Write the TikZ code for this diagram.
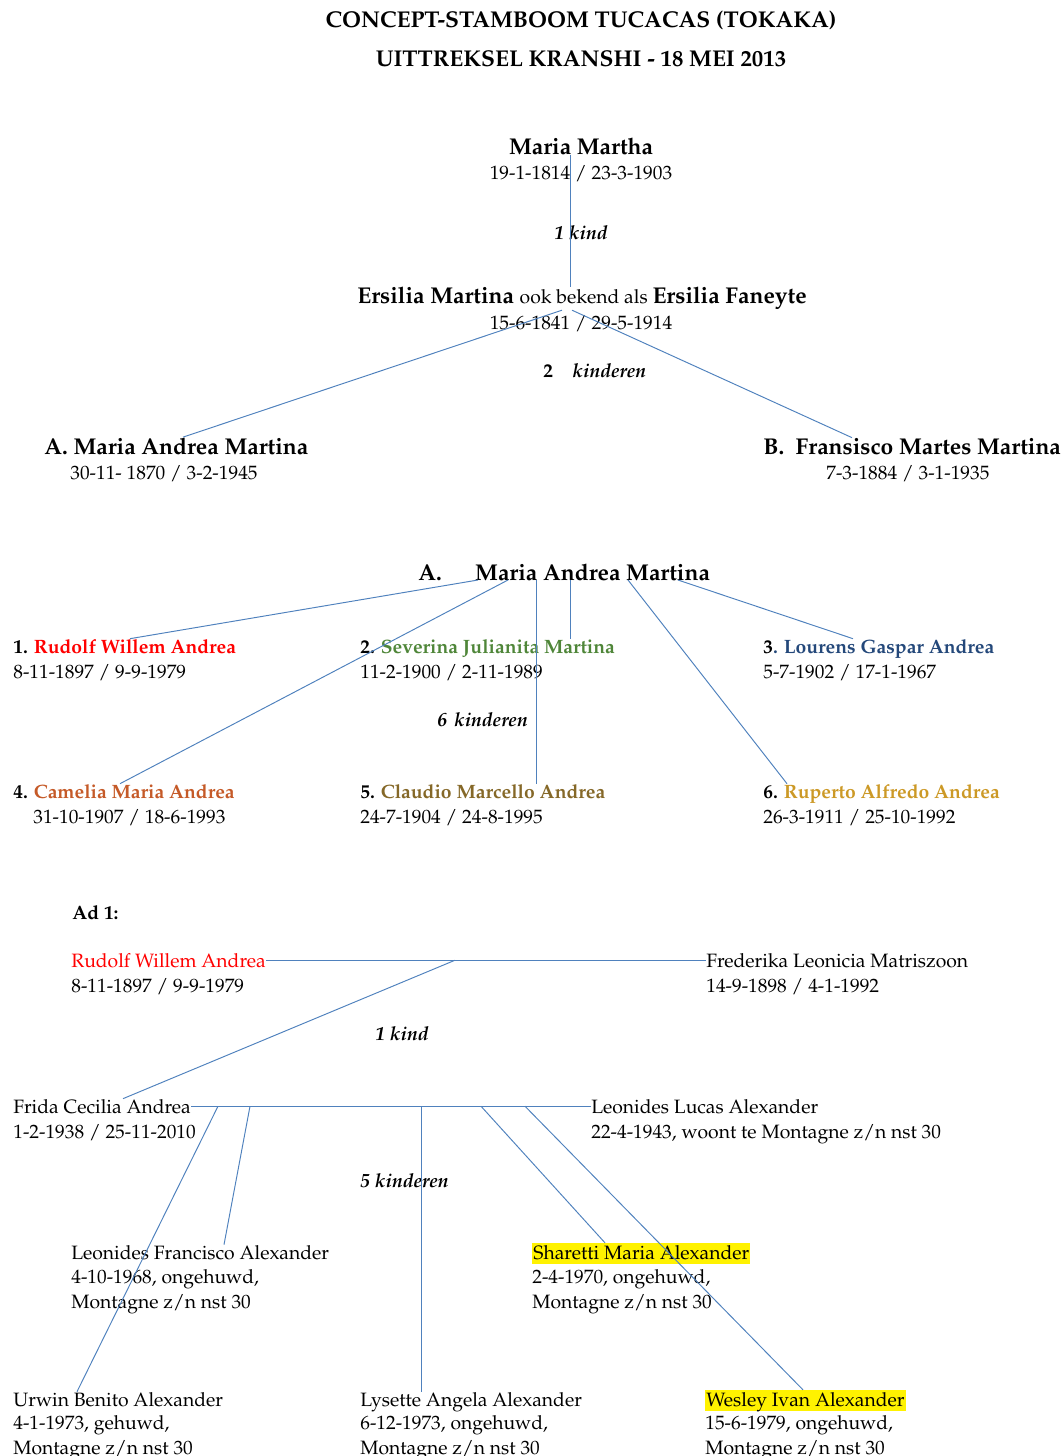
\documentclass[tikz,border=0pt]{standalone}
\usepackage[T1]{fontenc}
\usepackage{mathpazo}
\usepackage{xcolor}
\usetikzlibrary{positioning}
\definecolor{tieblue}{RGB}{79,129,189}
\definecolor{kidred}{RGB}{255,0,0}
\definecolor{kidgreen}{RGB}{79,134,57}
\definecolor{kidblue}{RGB}{36,72,122}
\definecolor{kidorange}{RGB}{197,90,40}
\definecolor{kidbrown}{RGB}{133,104,40}
\definecolor{kidgold}{RGB}{204,153,38}

\begin{document}
\begin{tikzpicture}[
    x=0.02cm, y=-0.02cm,
    heading/.style={font=\fontsize{13}{16}\selectfont\bfseries, inner sep=0, anchor=base},
    head/.style={font=\fontsize{13}{16}\selectfont\bfseries, inner sep=0},
    person/.style={font=\fontsize{11}{13.9}\selectfont, inner sep=0, anchor=base west},
    child/.style={font=\fontsize{11}{13.9}\selectfont\bfseries, inner sep=0, anchor=base west},
    dates/.style={font=\fontsize{11}{13.9}\selectfont, inner sep=0, align=left},
    kids/.style={font=\fontsize{11}{13.9}\selectfont\bfseries\itshape, inner sep=0, anchor=base west},
    hilite/.style={fill=yellow, inner xsep=0.6pt, inner ysep=0pt, text height=9pt, text depth=3pt},
    tie/.style={draw=tieblue, line width=0.55pt}
]
    \useasboundingbox (0,-2) rectangle (1062,1454);

    % Titles
    \node[heading] (t1) at (581,26) {CONCEPT-STAMBOOM TUCACAS (TOKAKA)};
    \node[heading] (t2) at (581,65) {UITTREKSEL KRANSHI - 18 MEI 2013};

    % Stammoeder en dochter
    \node[head, anchor=base] (mm) at (581,153) {Maria Martha};
    \node[dates, anchor=base] (mmd) at (581,178) {19-1-1814 / 23-3-1903};
    \node[kids, anchor=base] (k1) at (581,238) {1 kind};
    \node[head, anchor=base] (ers) at (582,302) {Ersilia Martina \mdseries\fontsize{11}{13.9}\selectfont ook bekend als \fontsize{13}{16}\selectfont\bfseries Ersilia Faneyte};
    \node[dates, anchor=base] (ersd) at (581,328) {15-6-1841 / 29-5-1914};
    \node[kids, anchor=base west] (k2) at (543,376) {\upshape 2\hspace{11pt}\itshape kinderen};

    % Twee kinderen
    \node[head, anchor=base west] (na) at (44,452) {A. Maria Andrea Martina};
    \node[dates, anchor=base west] (nad) at (70,477) {30-11- 1870 / 3-2-1945};
    \node[head, anchor=base west] (nb) at (763,452) {B.\ \ Fransisco Martes Martina};
    \node[dates, anchor=base west] (nbd) at (826,477) {7-3-1884 / 3-1-1935};

    \draw[tie] (mm.base -| 570,0) -- (ers.north -| 570,0);
    \draw[tie] (ers.south -| 562,0) -- (na.north -| 183,0);
    \draw[tie] (ers.south -| 572,0) -- (nb.north -| 852,0);

    % A. en haar zes kinderen
    \node[head, anchor=base west] (sa) at (418,578) {A.\hspace{19pt}Maria Andrea Martina};
    \node[child] (c1) at (13,651) {1. \textcolor{kidred}{Rudolf Willem Andrea}};
    \node[dates, anchor=base west] (c1d) at (13,676) {8-11-1897 / 9-9-1979};
    \node[child] (c2) at (360,651) {2. \textcolor{kidgreen}{Severina Julianita Martina}};
    \node[dates, anchor=base west] (c2d) at (360,676) {11-2-1900 / 2-11-1989};
    \node[child] (c3) at (763,651) {3\textcolor{kidblue}{. Lourens Gaspar Andrea}};
    \node[dates, anchor=base west] (c3d) at (763,676) {5-7-1902 / 17-1-1967};
    \node[kids] (k3) at (437,724) {6\hspace{4pt}kinderen};
    \node[child] (c4) at (13,796) {4. \textcolor{kidorange}{Camelia Maria Andrea}};
    \node[dates, anchor=base west] (c4d) at (33,821) {31-10-1907 / 18-6-1993};
    \node[child] (c5) at (360,796) {5. \textcolor{kidbrown}{Claudio Marcello Andrea}};
    \node[dates, anchor=base west] (c5d) at (360,821) {24-7-1904 / 24-8-1995};
    \node[child] (c6) at (763,796) {6. \textcolor{kidgold}{Ruperto Alfredo Andrea}};
    \node[dates, anchor=base west] (c6d) at (763,821) {26-3-1911 / 25-10-1992};

    \draw[tie] (sa.base -| 478,0) -- (c1.north -| 130,0);
    \draw[tie] (sa.base -| 508,0) -- (c4.north -| 120,0);
    \draw[tie] (sa.base -| 536,0) -- (c5.north -| 536,0);
    \draw[tie] (sa.base -| 570,0) -- (c2.north -| 570,0);
    \draw[tie] (sa.base -| 628,0) -- (c6.north -| 787,0);
    \draw[tie] (sa.base -| 678,0) -- (c3.north -| 853,0);

    % Ad 1
    \node[child] (ad) at (72,917) {Ad 1:};
    \node[person, text=kidred] (p1) at (71,965) {Rudolf Willem Andrea};
    \node[dates, anchor=base west] (p1d) at (71,990) {8-11-1897 / 9-9-1979};
    \node[person] (p2) at (706,965) {Frederika Leonicia Matriszoon};
    \node[dates, anchor=base west] (p2d) at (706,990) {14-9-1898 / 4-1-1992};
    \node[kids] (k4) at (375,1038) {1 kind};
    \node[person] (f1) at (13,1111) {Frida Cecilia Andrea};
    \node[dates, anchor=base west] (f1d) at (13,1136) {1-2-1938 / 25-11-2010};
    \node[person] (f2) at (591,1111) {Leonides Lucas Alexander};
    \node[dates, anchor=base west] (f2d) at (591,1136) {22-4-1943, woont te Montagne z/n nst 30};
    \node[kids] (k5) at (360,1185) {5 kinderen};

    \draw[tie] (p1.east) -- (p2.west);
    \draw[tie] (p1.east -| 455,0) -- (f1.north -| 123,0);
    \draw[tie] (f1.east) -- (f2.west);

    % Vijf kleinkinderen (base = laatste regel)
    \node[person] (g1) at (71,1257) {Leonides Francisco Alexander};
    \node[dates, anchor=base west] (g1d) at (71,1306) {4-10-1968, ongehuwd,\\Montagne z/n nst 30};
    \node[person, hilite] (g2) at (532,1257) {Sharetti Maria Alexander};
    \node[dates, anchor=base west] (g2d) at (532,1306) {2-4-1970, ongehuwd,\\Montagne z/n nst 30};
    \node[person] (g3) at (13,1404) {Urwin Benito Alexander};
    \node[dates, anchor=base west] (g3d) at (13,1452) {4-1-1973, gehuwd,\\Montagne z/n nst 30};
    \node[person] (g4) at (360,1404) {Lysette Angela Alexander};
    \node[dates, anchor=base west] (g4d) at (360,1452) {6-12-1973, ongehuwd,\\Montagne z/n nst 30};
    \node[person, hilite] (g5) at (705,1404) {Wesley Ivan Alexander};
    \node[dates, anchor=base west] (g5d) at (705,1452) {15-6-1979, ongehuwd,\\Montagne z/n nst 30};

    \draw[tie] (f1.east -| 218,0) -- (g3.north -| 77,0);
    \draw[tie] (f1.east -| 250,0) -- (g1.north -| 224,0);
    \draw[tie] (f1.east -| 421,0) -- (g4.north -| 421,0);
    \draw[tie] (f1.east -| 481,0) -- (g2.north -| 605,0);
    \draw[tie] (f1.east -| 525,0) -- (g5.north -| 803,0);
\end{tikzpicture}
\end{document}
